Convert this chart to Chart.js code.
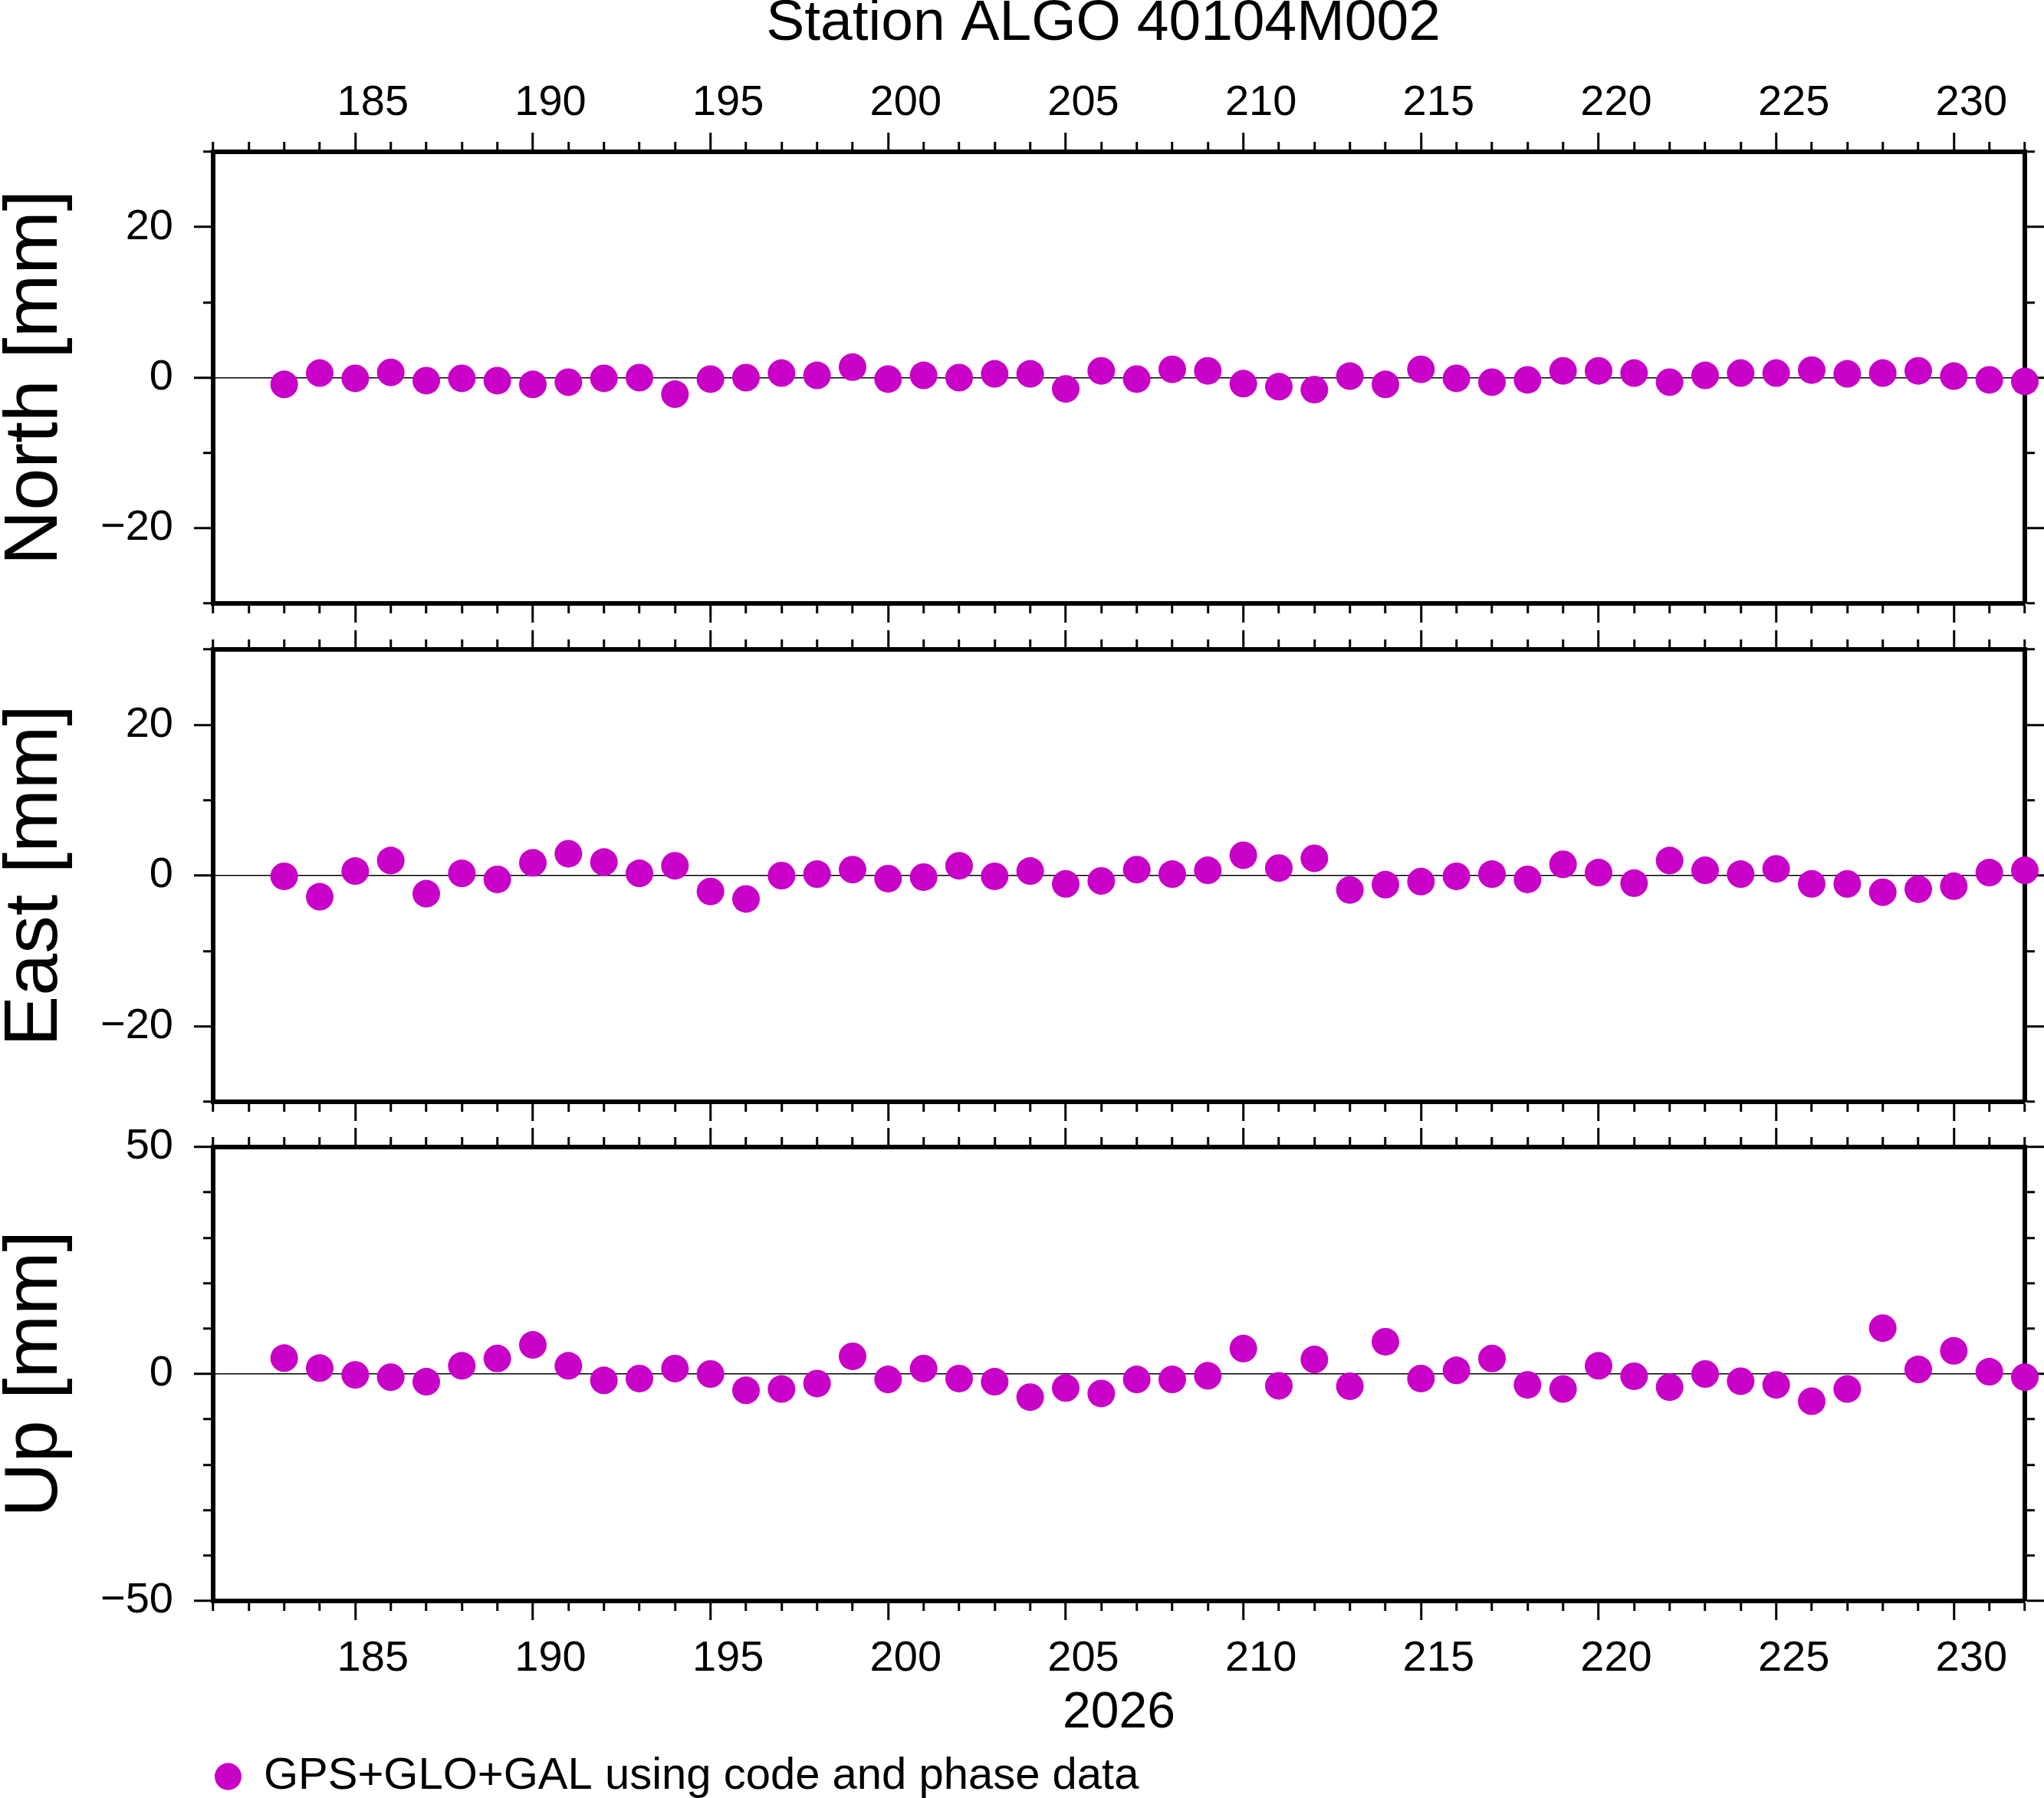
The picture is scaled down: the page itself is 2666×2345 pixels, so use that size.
<!DOCTYPE html>
<html>
<head>
<meta charset="utf-8">
<title>Station ALGO 40104M002</title>
<script src="https://cdn.jsdelivr.net/npm/chart.js@4.4.1/dist/chart.umd.min.js"></script>
<style>
  html, body { margin: 0; padding: 0; background: #fff; }
  body { width: 2666px; height: 2345px; position: relative; overflow: hidden; }
  .panel { position: absolute; left: 0; width: 2666px; }
</style>
</head>
<body>
<div class="panel" style="top:0;height:817px"><canvas id="northChart"></canvas></div>
<div class="panel" style="top:817px;height:650px"><canvas id="eastChart"></canvas></div>
<div class="panel" style="top:1467px;height:889px"><canvas id="upChart"></canvas></div>
<script>
// day of year 2026
const days = [
    183, 184, 185, 186, 187, 188, 189, 190, 191, 192, 193, 194, 195,
    196, 197, 198, 199, 200, 201, 202, 203, 204, 205, 206, 207, 208,
    209, 210, 211, 212, 213, 214, 215, 216, 217, 218, 219, 220, 221,
    222, 223, 224, 225, 226, 227, 228, 229, 230, 231, 232,
];

// residuals in mm
const north = [
    -0.9, 0.6, -0.1, 0.7, -0.4, -0.1, -0.4, -0.9, -0.6, -0.1, 0.0, -2.2, -0.2,
    0.0, 0.6, 0.3, 1.4, -0.2, 0.3, 0.0, 0.5, 0.5, -1.5, 0.9, -0.2, 1.1,
    0.9, -0.8, -1.2, -1.6, 0.2, -0.9, 1.1, -0.1, -0.6, -0.3, 0.9, 0.9, 0.6,
    -0.6, 0.3, 0.6, 0.6, 1.0, 0.5, 0.6, 0.9, 0.2, -0.3, -0.5,
];
const east = [
    -0.1, -2.8, 0.6, 2.0, -2.4, 0.3, -0.5, 1.7, 2.9, 1.8, 0.3, 1.3, -2.1,
    -3.1, 0.0, 0.2, 0.8, -0.4, -0.2, 1.3, -0.1, 0.6, -1.1, -0.7, 0.8, 0.2,
    0.7, 2.7, 1.0, 2.3, -1.9, -1.2, -0.8, -0.1, 0.2, -0.5, 1.5, 0.4, -1.0,
    2.0, 0.7, 0.2, 0.9, -1.1, -1.1, -2.2, -1.8, -1.4, 0.4, 0.7,
];
const up = [
    3.5, 1.3, -0.2, -0.7, -1.7, 1.8, 3.4, 6.4, 1.8, -1.4, -1.0, 1.2, 0.0,
    -3.6, -3.3, -2.1, 3.9, -1.2, 1.2, -1.0, -1.7, -5.1, -3.1, -4.3, -1.2, -1.2,
    -0.4, 5.6, -2.6, 3.2, -2.7, 7.1, -1.0, 0.8, 3.4, -2.4, -3.3, 1.8, -0.5,
    -2.9, 0.0, -1.6, -2.4, -6.0, -3.3, 10.1, 1.0, 5.1, 0.5, -0.7,
];

// annotated ticks
const dayLabels = [185, 190, 195, 200, 205, 210, 215, 220, 225, 230];
const horizLabels = [-20, 0, 20];
const upLabels = [-50, 0, 50];

const MAGENTA = "#c800c8";
const LEGEND_TEXT = "GPS+GLO+GAL using code and phase data";

Chart.defaults.font.family = "'Liberation Sans', Arial, Helvetica, sans-serif";
Chart.defaults.color = "#000";

const fmt = (v) => (v < 0 ? "\u2212" + Math.abs(v) : String(v));

// GMT-like frame: ticks outside on all sides, long where annotated
function frameGrid(side, majors, zeroLine) {
    const outerFirst = side === "top" || side === "left";
    const isMajor = (v) => majors.includes(v);
    return {
        drawOnChartArea: !!zeroLine,
        color: (c) =>
            zeroLine && c.tick && c.tick.value === 0 ? "#000" : "rgba(0,0,0,0)",
        lineWidth: 1.5,
        tickLength: 25,
        tickWidth: 3,
        tickColor: "#000",
        tickBorderDash: (c) =>
            isMajor(c.tick.value) ? [] : outerFirst ? [10, 12] : [10, 100],
        tickBorderDashOffset: (c) =>
            !isMajor(c.tick.value) && outerFirst ? 10 : 0,
    };
}

const border = { display: true, width: 6, color: "#000" };

function xAxis(side, showLabels, size, title) {
    return {
        type: "linear",
        position: side,
        min: 181,
        max: 232,
        grid: frameGrid(side, dayLabels, false),
        border: border,
        ticks: {
            display: showLabels,
            stepSize: 1,
            maxTicksLimit: 100,
            autoSkip: false,
            maxRotation: 0,
            labelOffset: 23,
            padding: side === "top" ? 5 : 17,
            font: { size: 56 },
            callback: (v) => (dayLabels.includes(v) ? String(v) : ""),
        },
        title: title || { display: false },
        afterFit: (s) => {
            s.height = size;
            s.paddingLeft = 0;
            s.paddingRight = 0;
        },
    };
}

function yAxis(side, min, max, majors, title, width) {
    const left = side === "left";
    return {
        type: "linear",
        position: side,
        min: min,
        max: max,
        grid: frameGrid(side, majors, left),
        border: border,
        ticks: {
            display: left,
            stepSize: 10,
            autoSkip: false,
            padding: 27,
            font: { size: 56 },
            callback: (v) => (majors.includes(v) ? fmt(v) : ""),
        },
        title: {
            display: left,
            text: title,
            font: { size: 99, lineHeight: 1 },
            padding: { top: -3, bottom: 0 },
        },
        afterFit: (s) => {
            s.width = width;
            s.paddingTop = 0;
            s.paddingBottom = 0;
        },
    };
}

function panel(id, values, scales, plugins, padRight) {
    return new Chart(document.getElementById(id), {
        type: "scatter",
        data: {
            datasets: [
                {
                    label: LEGEND_TEXT,
                    data: days.map((d, i) => ({ x: d, y: values[i] })),
                    backgroundColor: MAGENTA,
                    borderWidth: 0,
                    pointRadius: 18,
                    pointHoverRadius: 18,
                    clip: false,
                },
            ],
        },
        options: {
            responsive: true,
            maintainAspectRatio: false,
            animation: false,
            events: [],
            layout: { padding: { left: 0, right: padRight || 0, top: 0, bottom: 0 } },
            scales: scales,
            plugins: Object.assign(
                { legend: { display: false }, tooltip: { enabled: false } },
                plugins
            ),
        },
    });
}

// the title is centred on the page a little left of the frame centre,
// so the north chart's box is widened to the right
panel(
    "northChart",
    north,
    {
        x: xAxis("bottom", false, 30),
        xTop: xAxis("top", true, 129),
        y: yAxis("left", -30, 30, horizLabels, "North [mm]", 278),
        yRight: yAxis("right", -30, 30, horizLabels, "", 237),
    },
    {
        title: {
            display: true,
            text: "Station ALGO 40104M002",
            font: { size: 75, weight: "normal", lineHeight: 1 },
            color: "#000",
            padding: { top: -6, bottom: 0 },
        },
    },
    -212
);

panel("eastChart", east, {
    x: xAxis("bottom", false, 30),
    xTop: xAxis("top", false, 30),
    y: yAxis("left", -30, 30, horizLabels, "East [mm]", 278),
    yRight: yAxis("right", -30, 30, horizLabels, "", 25),
});

panel(
    "upChart",
    up,
    {
        x: xAxis("bottom", true, 198, {
            display: true,
            text: "2026",
            font: { size: 66, lineHeight: 1 },
            padding: { top: 0, bottom: 18 },
        }),
        xTop: xAxis("top", false, 29),
        y: yAxis("left", -50, 50, upLabels, "Up [mm]", 278),
        yRight: yAxis("right", -50, 50, upLabels, "", 25),
    },
    {
        legend: {
            display: true,
            position: "bottom",
            align: "start",
            fullSize: false,
            labels: {
                usePointStyle: true,
                pointStyle: "circle",
                pointStyleWidth: 35,
                boxHeight: 25,
                padding: 2,
                color: "#000",
                font: { size: 58, lineHeight: 1 },
            },
        },
    }
);
</script>
</body>
</html>
